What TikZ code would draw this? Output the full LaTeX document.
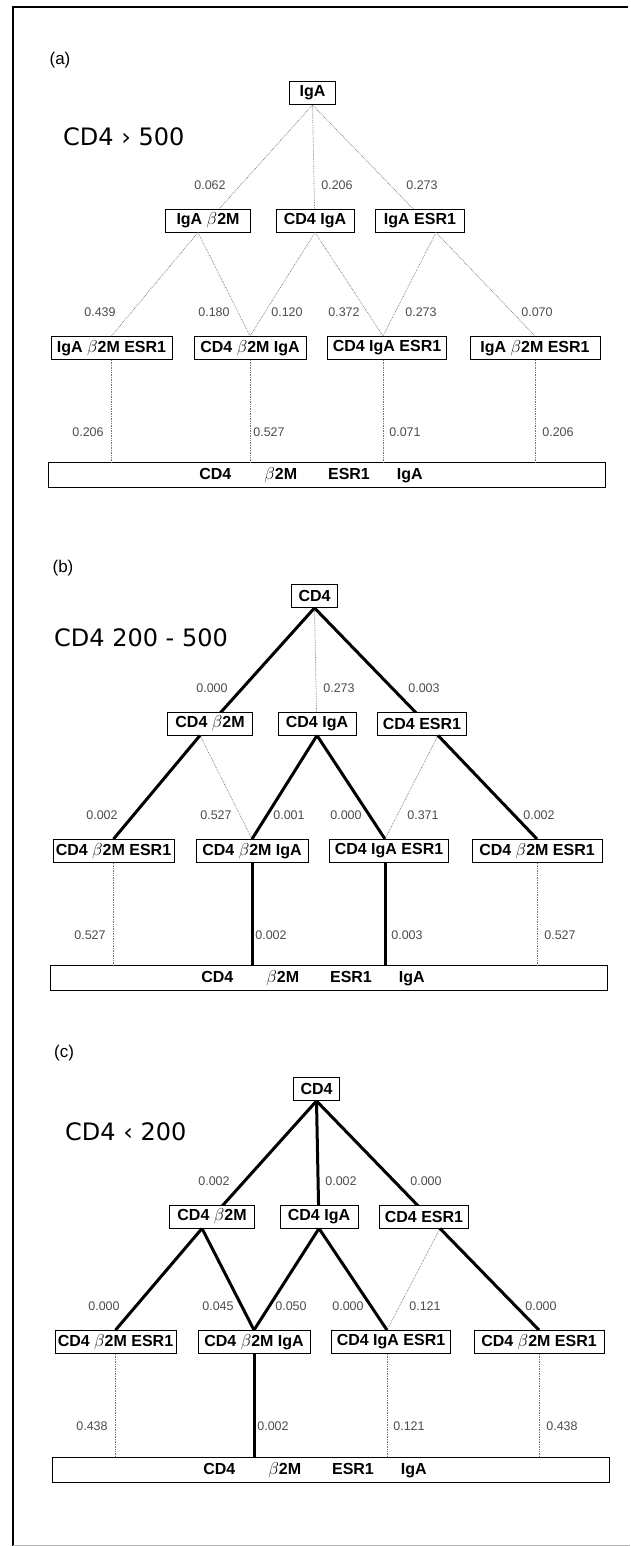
\documentclass[tikz,border=0pt]{standalone}
\usepackage{fontspec}
\setmainfont{Liberation Sans}
\newfontfamily\headfont{DejaVu Sans}
\usetikzlibrary{backgrounds}

\tikzset{
  box/.style={draw,line width=0.9pt,fill=white,inner sep=0pt,
              minimum height=23pt,font=\fontsize{16}{19}\selectfont\bfseries},
  bar/.style={box,minimum width=557pt,minimum height=25pt},
  weak/.style={densely dotted,line width=0.7pt,black!55},
  strong/.style={line width=3pt},
  val/.style={inner sep=0pt,text=black!70,font=\fontsize{12.5}{15}\selectfont},
  head/.style={anchor=west,inner sep=0pt,font=\headfont\fontsize{24}{28}\selectfont},
  tag/.style={inner sep=0pt,font=\fontsize{17}{20}\selectfont}
}

\begin{document}
\begin{tikzpicture}[x=1pt,y=-1pt]
\useasboundingbox (0,0) rectangle (630,1546);
\draw[line width=1.2pt] (13,1546) -- (13,7) -- (628,7);
\draw[black!30,line width=0.6pt] (13,1545) -- (630,1545);

% (a) CD4 above 500
\begin{scope}[shift={(0,93)}]
\node[tag] (tagA) at (60,-33) {(a)};
\node[head] (headA) at (63,44) {CD4 › 500};
\node[box,minimum width=46pt] (rootA) at (312.5,0) {IgA};
\node[box,minimum width=85pt] (bmA) at (208,127.5) {IgA $\beta$2M};
\node[box,minimum width=78pt] (iaA) at (315,127.5) {CD4 IgA};
\node[box,minimum width=89pt] (esA) at (420,127.5) {IgA ESR1};
\node[box,minimum width=121pt] (l1A) at (111.5,255) {IgA $\beta$2M ESR1};
\node[box,minimum width=112pt] (l2A) at (250,255) {CD4 $\beta$2M IgA};
\node[box,minimum width=119pt] (l3A) at (387,255) {CD4 IgA ESR1};
\node[box,minimum width=130pt] (l4A) at (535,255) {IgA $\beta$2M ESR1};
\node[bar] (barA) at (327,382)
  {CD4\hspace{33pt}$\beta$2M\hspace{31pt}ESR1\hspace{27pt}IgA\hspace{32pt}\null};
\begin{pgfonlayer}{background}
\draw[weak] (rootA.south) -- ([xshift=-10pt]bmA.south);
\draw[weak] (rootA.south) -- (iaA.south);
\draw[weak] (rootA.south) -- ([xshift=16pt]esA.south);
\end{pgfonlayer}
\draw[weak] ([xshift=-10pt]bmA.south) -- (l1A.north);
\draw[weak] ([xshift=-10pt]bmA.south) -- (l2A.north);
\draw[weak] (iaA.south) -- (l2A.north);
\draw[weak] (iaA.south) -- ([xshift=-4pt]l3A.north);
\draw[weak] ([xshift=16pt]esA.south) -- ([xshift=-4pt]l3A.north);
\draw[weak] ([xshift=16pt]esA.south) -- (l4A.north);
\draw[weak] (l1A.south) -- (l1A.south |- barA.north);
\draw[weak] (l2A.south) -- (l2A.south |- barA.north);
\draw[weak] ([xshift=-4pt]l3A.south) -- ([xshift=-4pt]l3A.south |- barA.north);
\draw[weak] (l4A.south) -- (l4A.south |- barA.north);
\foreach \x/\y/\v [count=\i] in {210/92/0.062,337/92/0.206,422/92/0.273,
    100/219/0.439,214/219/0.180,287/219/0.120,344/219/0.372,421/219/0.273,537/219/0.070,
    88/339/0.206,269/339/0.527,405/339/0.071,558/339/0.206}
  \node[val] (vA\i) at (\x,\y) {\v};
\end{scope}

% (b) CD4 200-500
\begin{scope}[shift={(2,596)}]
\node[tag] (tagB) at (61,-28) {(b)};
\node[head] (headB) at (52,42) {CD4 200 - 500};
\node[box,minimum width=46pt] (rootB) at (312.5,0) {CD4};
\node[box,minimum width=85pt] (bmB) at (208,127.5) {CD4 $\beta$2M};
\node[box,minimum width=78pt] (iaB) at (315,127.5) {CD4 IgA};
\node[box,minimum width=89pt] (esB) at (420,127.5) {CD4 ESR1};
\node[box,minimum width=121pt] (l1B) at (111.5,255) {CD4 $\beta$2M ESR1};
\node[box,minimum width=112pt] (l2B) at (250,255) {CD4 $\beta$2M IgA};
\node[box,minimum width=119pt] (l3B) at (387,255) {CD4 IgA ESR1};
\node[box,minimum width=130pt] (l4B) at (535,255) {CD4 $\beta$2M ESR1};
\node[bar] (barB) at (327,382)
  {CD4\hspace{33pt}$\beta$2M\hspace{31pt}ESR1\hspace{27pt}IgA\hspace{32pt}\null};
\begin{pgfonlayer}{background}
\draw[strong] (rootB.south) -- ([xshift=-10pt]bmB.south);
\draw[weak] (rootB.south) -- (iaB.south);
\draw[strong] (rootB.south) -- ([xshift=16pt]esB.south);
\end{pgfonlayer}
\draw[strong] ([xshift=-10pt]bmB.south) -- (l1B.north);
\draw[weak] ([xshift=-10pt]bmB.south) -- (l2B.north);
\draw[strong] (iaB.south) -- (l2B.north);
\draw[strong] (iaB.south) -- ([xshift=-4pt]l3B.north);
\draw[weak] ([xshift=16pt]esB.south) -- ([xshift=-4pt]l3B.north);
\draw[strong] ([xshift=16pt]esB.south) -- (l4B.north);
\draw[weak] (l1B.south) -- (l1B.south |- barB.north);
\draw[strong] (l2B.south) -- (l2B.south |- barB.north);
\draw[strong] ([xshift=-4pt]l3B.south) -- ([xshift=-4pt]l3B.south |- barB.north);
\draw[weak] (l4B.south) -- (l4B.south |- barB.north);
\foreach \x/\y/\v [count=\i] in {210/92/0.000,337/92/0.273,422/92/0.003,
    100/219/0.002,214/219/0.527,287/219/0.001,344/219/0.000,421/219/0.371,537/219/0.002,
    88/339/0.527,269/339/0.002,405/339/0.003,558/339/0.527}
  \node[val] (vB\i) at (\x,\y) {\v};
\end{scope}

% (c) CD4 below 200
\begin{scope}[shift={(4,1089)}]
\node[tag] (tagC) at (60,-36) {(c)};
\node[head] (headC) at (61,43) {CD4 ‹ 200};
\node[box,minimum width=46pt] (rootC) at (312.5,0) {CD4};
\node[box,minimum width=85pt] (bmC) at (208,127.5) {CD4 $\beta$2M};
\node[box,minimum width=78pt] (iaC) at (315,127.5) {CD4 IgA};
\node[box,minimum width=89pt] (esC) at (420,127.5) {CD4 ESR1};
\node[box,minimum width=121pt] (l1C) at (111.5,253) {CD4 $\beta$2M ESR1};
\node[box,minimum width=112pt] (l2C) at (250,253) {CD4 $\beta$2M IgA};
\node[box,minimum width=119pt] (l3C) at (387,253) {CD4 IgA ESR1};
\node[box,minimum width=130pt] (l4C) at (535,253) {CD4 $\beta$2M ESR1};
\node[bar] (barC) at (327,381)
  {CD4\hspace{33pt}$\beta$2M\hspace{31pt}ESR1\hspace{27pt}IgA\hspace{32pt}\null};
\begin{pgfonlayer}{background}
\draw[strong] (rootC.south) -- ([xshift=-10pt]bmC.south);
\draw[strong] (rootC.south) -- (iaC.south);
\draw[strong] (rootC.south) -- ([xshift=16pt]esC.south);
\end{pgfonlayer}
\draw[strong] ([xshift=-10pt]bmC.south) -- (l1C.north);
\draw[strong] ([xshift=-10pt]bmC.south) -- (l2C.north);
\draw[strong] (iaC.south) -- (l2C.north);
\draw[strong] (iaC.south) -- ([xshift=-4pt]l3C.north);
\draw[weak] ([xshift=16pt]esC.south) -- ([xshift=-4pt]l3C.north);
\draw[strong] ([xshift=16pt]esC.south) -- (l4C.north);
\draw[weak] (l1C.south) -- (l1C.south |- barC.north);
\draw[strong] (l2C.south) -- (l2C.south |- barC.north);
\draw[weak] ([xshift=-4pt]l3C.south) -- ([xshift=-4pt]l3C.south |- barC.north);
\draw[weak] (l4C.south) -- (l4C.south |- barC.north);
\foreach \x/\y/\v [count=\i] in {210/92/0.002,337/92/0.002,422/92/0.000,
    100/217/0.000,214/217/0.045,287/217/0.050,344/217/0.000,421/217/0.121,537/217/0.000,
    88/337/0.438,269/337/0.002,405/337/0.121,558/337/0.438}
  \node[val] (vC\i) at (\x,\y) {\v};
\end{scope}
\end{tikzpicture}
\end{document}
